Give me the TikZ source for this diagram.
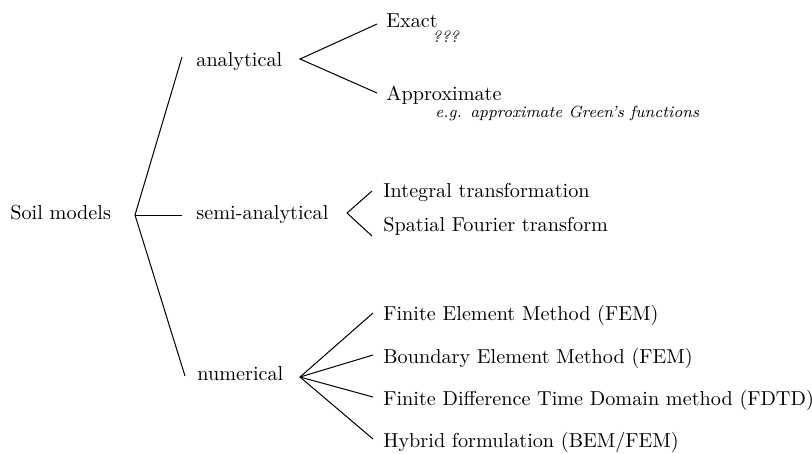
\documentclass[tikz,border=0pt]{standalone}
\begin{document}
\begin{tikzpicture}[x=0.495pt,y=-0.495pt,
  lbl/.style={anchor=base west,inner sep=0pt,font=\fontsize{10}{12}\selectfont},
  note/.style={anchor=base west,inner sep=0pt,font=\footnotesize\itshape},
  conn/.style={draw,line width=0.5pt}]
\useasboundingbox (0,0) rectangle (812,453);
% text nodes
\node[lbl] (soil) at (10,219) {Soil models};
\node[lbl] (ana) at (196,66) {analytical};
\node[lbl] (semi) at (196,219) {semi-analytical};
\node[lbl] (num) at (197,380) {numerical};
\node[lbl] (exact) at (386,27) {Exact};
\node[note] (exactnote) at (432,42) {???};
\node[lbl] (approx) at (386,100) {Approximate};
\node[note] (approxnote) at (435,117) {e.g. approximate Green's functions};
\node[lbl] (integ) at (383,197) {Integral transformation};
\node[lbl] (spatial) at (383,231) {Spatial Fourier transform};
\node[lbl] (fem) at (383,320) {Finite Element Method (FEM)};
\node[lbl] (bem) at (383,363) {Boundary Element Method (FEM)};
\node[lbl] (fdtd) at (383,405) {Finite Difference Time Domain method (FDTD)};
\node[lbl] (hyb) at (383,447) {Hybrid formulation (BEM/FEM)};
% branch points
\coordinate (b0) at (135,215);
\coordinate (b1) at (300,59);
\coordinate (b2) at (347,213);
\coordinate (b3) at (300,377);
% line ends
\coordinate (eana) at (182,57);
\coordinate (esemi) at (182,215);
\coordinate (enum) at (185,376);
\coordinate (eexact) at (377,24);
\coordinate (eapprox) at (377,93);
\coordinate (einteg) at (372,191);
\coordinate (espatial) at (372,236);
\coordinate (efem) at (373,313);
\coordinate (ebem) at (373,355);
\coordinate (efdtd) at (373,397);
\coordinate (ehyb) at (373,439);
% connectors
\path[conn] (eana) -- (b0) -- (enum);
\path[conn] (b0) -- (esemi);
\path[conn] (eexact) -- (b1) -- (eapprox);
\path[conn] (einteg) -- (b2) -- (espatial);
\path[conn] (efem) -- (b3) -- (ehyb);
\path[conn] (b3) -- (ebem);
\path[conn] (b3) -- (efdtd);
\end{tikzpicture}
\end{document}
